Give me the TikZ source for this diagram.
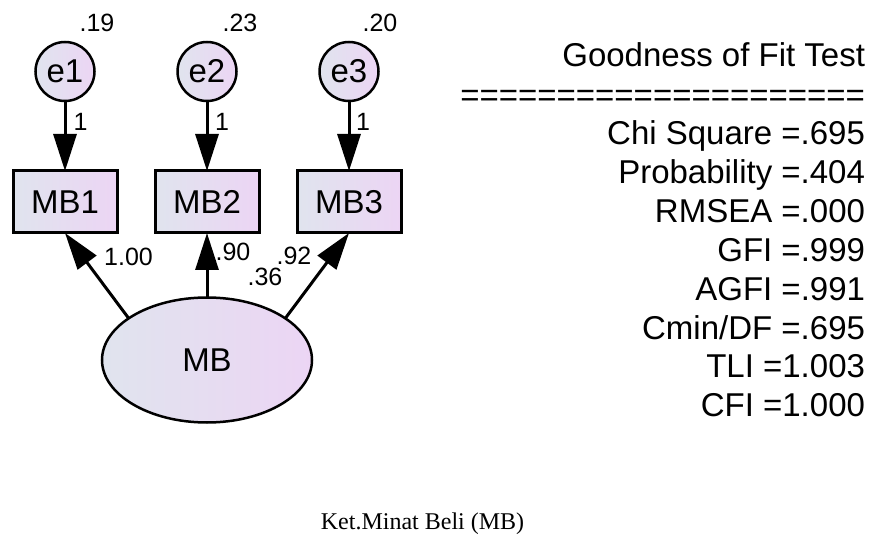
\documentclass[tikz,border=0pt]{standalone}
\usepackage{fontspec}
\setmainfont{Liberation Sans}
\newfontfamily\captionserif{Liberation Serif}
\usetikzlibrary{positioning, shapes.geometric, arrows.meta, matrix}

\definecolor{semleft}{RGB}{224,228,238}
\definecolor{semright}{RGB}{236,213,244}

\begin{document}
\begin{tikzpicture}[
  x=1pt, y=-1pt,
  every node/.style={font=\fontsize{33pt}{39pt}\selectfont, outer sep=0pt},
  obs/.style={rectangle, draw, line width=3pt, minimum width=104pt,
              minimum height=62pt, left color=semleft, right color=semright},
  err/.style={circle, draw, line width=2.5pt, minimum size=59pt,
              inner sep=0pt, left color=semleft, right color=semright},
  lat/.style={ellipse, draw, line width=2.5pt, minimum width=210pt,
              minimum height=125pt, left color=semleft, right color=semright},
  est/.style={font=\fontsize{25pt}{30pt}\selectfont, inner sep=0pt},
  load/.style={line width=3pt, -{Triangle[length=37pt, width=23pt]}}
]
  \useasboundingbox (0,0) rectangle (873,537);

  % indicators, latent factor and error terms
  \node[obs] (MB1) at (65,202) {MB1};
  \node[obs] (MB2) at (207,202) {MB2};
  \node[obs] (MB3) at (349,202) {MB3};
  \node[lat] (MB) at (207,360) {MB};
  \node[err, above=70pt of MB1] (e1) {e1};
  \node[err, above=70pt of MB2] (e2) {e2};
  \node[err, above=70pt of MB3] (e3) {e3};

  \draw[load] (e1) -- (MB1);
  \draw[load] (e2) -- (MB2);
  \draw[load] (e3) -- (MB3);
  \draw[load] (MB.152) -- (MB1.south);
  \draw[load] (MB.north) -- (MB2.south);
  \draw[load] (MB.28) -- (MB3.south);

  % estimates
  \node[est] (r1) at (97,23) {.19};
  \node[est] (r2) at (240,23) {.23};
  \node[est] (r3) at (380,23) {.20};
  \node[est] (w1) at (80.5,122) {1};
  \node[est] (w2) at (222,122) {1};
  \node[est] (w3) at (363,122) {1};
  \node[est] (l1) at (128.5,257) {1.00};
  \node[est] (l2) at (233,252) {.90};
  \node[est] (l3) at (294,256) {.92};
  \node[est] (v0) at (265,277) {.36};

  \matrix (gof) [matrix of nodes, anchor=north east, inner sep=0pt,
                 row sep=7.86pt,
                 nodes={anchor=east, inner sep=0pt, text height=24pt,
                        text depth=7pt}] at (865,42) {
    Goodness of Fit Test\\[2pt]
    =====================\\[-1pt]
    Chi Square =.695\\
    Probability =.404\\
    RMSEA =.000\\
    GFI =.999\\
    AGFI =.991\\
    Cmin/DF =.695\\
    TLI =1.003\\
    CFI =1.000\\
  };

  \node[font=\captionserif\fontsize{24pt}{28pt}\selectfont, anchor=base]
    (cap) at (422.5,529) {Ket.Minat Beli (MB)};
\end{tikzpicture}
\end{document}
